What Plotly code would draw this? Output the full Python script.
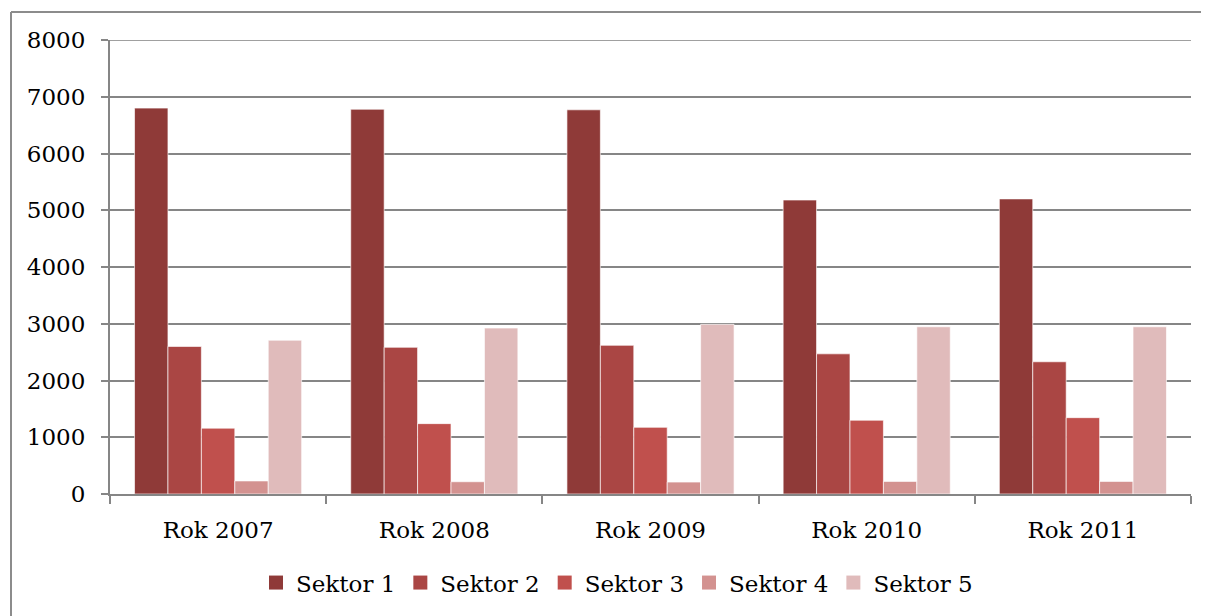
import plotly.graph_objects as go

categories = ["Rok 2007", "Rok 2008", "Rok 2009", "Rok 2010", "Rok 2011"]
series_names = ["Sektor 1", "Sektor 2", "Sektor 3", "Sektor 4", "Sektor 5"]
sektor1 = [6800, 6780, 6770, 5180, 5200]
sektor2 = [2600, 2585, 2620, 2470, 2330]
sektor3 = [1160, 1240, 1175, 1300, 1345]
sektor4 = [230, 216, 210, 222, 222]
sektor5 = [2710, 2924, 2990, 2947, 2947]
y_ticks = [0, 1000, 2000, 3000, 4000, 5000, 6000, 7000, 8000]

colors = ["#8F3A38", "#AA4644", "#C0504D", "#D39290", "#E0BBBB"]
values = [sektor1, sektor2, sektor3, sektor4, sektor5]

FONT = "DejaVu Serif"
FS = 23

fig = go.Figure()
for name, vals, col in zip(series_names, values, colors):
    fig.add_trace(go.Bar(
        x=categories, y=vals, name=name, showlegend=False, legendgroup=name,
        marker=dict(color=col, line=dict(color="rgba(255,255,255,0.8)", width=0.8)),
    ))
# legend entries with larger square keys
for name, col in zip(series_names, colors):
    fig.add_trace(go.Scatter(
        x=[None], y=[None], name=name, mode="markers", legendgroup=name,
        marker=dict(symbol="square", size=14, color=col),
    ))

# page body margin offset (8px) compensation
OFF = 8
W, H = 1209 - OFF, 616 - OFF
L, T = 110 - OFF, 40 - OFF
R = 18
B = 120
pw = W - L - R
ph = H - T - B

def px_x(p):  # screen pixel -> paper
    return (p - OFF - L) / pw

def px_y(p):
    return (H - B - (p - OFF)) / ph

fig.update_layout(
    width=W, height=H,
    margin=dict(l=L, r=R, t=T, b=B),
    paper_bgcolor="white", plot_bgcolor="white",
    barmode="group", bargap=0.227, bargroupgap=0,
    font=dict(family=FONT, size=FS, color="black"),
    showlegend=True,
    legend=dict(
        orientation="h", x=px_x(617), xanchor="center",
        y=px_y(585), yanchor="middle",
        font=dict(family=FONT, size=FS, color="black"),
        itemwidth=30, traceorder="normal",
    ),
    xaxis=dict(
        type="category", categoryorder="array", categoryarray=categories,
        showline=True, linecolor="#868686", linewidth=2,
        ticks="outside", tickson="boundaries", ticklen=8, tickcolor="#868686", tickwidth=2,
        showgrid=False, ticklabelstandoff=14,
        tickfont=dict(family=FONT, size=FS, color="black"),
    ),
    yaxis=dict(
        range=[0, 8000], tickvals=y_ticks,
        showline=True, linecolor="#868686", linewidth=2,
        ticks="outside", ticklen=7, tickcolor="#868686", tickwidth=2,
        showgrid=True, gridcolor="#868686", gridwidth=2,
        zeroline=False, ticklabelstandoff=11,
        tickfont=dict(family=FONT, size=FS, color="black"),
    ),
)

# top gridline at the axis maximum (plotly hides gridlines on the plot edge)
fig.add_shape(type="line", xref="paper", yref="y", layer="below",
              x0=0, x1=1, y0=y_ticks[-1], y1=y_ticks[-1],
              line=dict(color="#A0A0A0", width=2))

# outer chart border (top and left edges)
fig.add_shape(type="line", xref="paper", yref="paper",
              x0=px_x(11), x1=px_x(1220), y0=px_y(12), y1=px_y(12),
              line=dict(color="#8C8C8C", width=2))
fig.add_shape(type="line", xref="paper", yref="paper",
              x0=px_x(11), x1=px_x(11), y0=px_y(12), y1=px_y(630),
              line=dict(color="#8C8C8C", width=2))

fig.write_html("out.html")
